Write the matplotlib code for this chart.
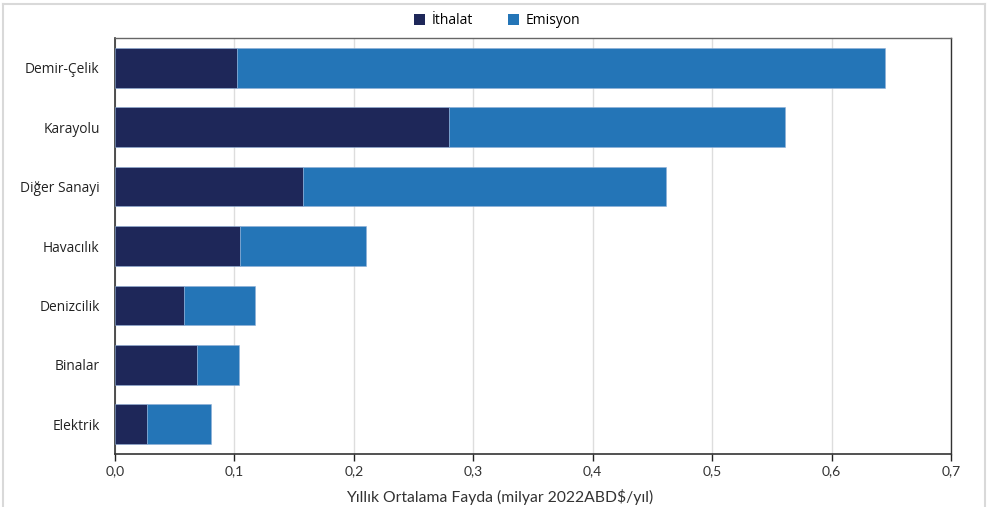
import matplotlib
matplotlib.use("Agg")
import matplotlib.pyplot as plt
from matplotlib.lines import Line2D
from matplotlib.patches import Patch

categories = ["Demir-Çelik", "Karayolu", "Diğer Sanayi", "Havacılık", "Denizcilik", "Binalar", "Elektrik"]
ithalat = [0.102, 0.280, 0.157, 0.105, 0.058, 0.069, 0.027]
emisyon = [0.543, 0.281, 0.304, 0.105, 0.059, 0.035, 0.053]
xticks = [0.0, 0.1, 0.2, 0.3, 0.4, 0.5, 0.6, 0.7]
xticklabels = ["0,0", "0,1", "0,2", "0,3", "0,4", "0,5", "0,6", "0,7"]
series_names = ["İthalat", "Emisyon"]
colors = ["#1e2759", "#2475b7"]

plt.rcParams['font.family'] = ['Open Sans', 'DejaVu Sans']

fig = plt.figure(figsize=(9.92, 5.07), dpi=100)
ax = fig.add_axes([115/992, 1 - 454/507, (951-115)/992, (454-38)/507])

y = list(range(len(categories)))
ax.barh(y, ithalat, height=0.67, color=colors[0], edgecolor="#8fb0d8", linewidth=0.4, zorder=3)
ax.barh(y, emisyon, left=ithalat, height=0.67, color=colors[1], edgecolor="#8fb0d8", linewidth=0.4, zorder=3)

ax.set_xlim(0, 0.7)
ax.set_ylim(6.5, -0.5)
ax.set_yticks(y)
ax.set_yticklabels(categories, fontsize=9.9, color="#222222")
ax.tick_params(axis='y', length=0, pad=11)
ax.set_xticks(xticks)
ax.set_xticklabels(xticklabels, fontsize=10, color="#333333", family=['Lato', 'DejaVu Sans'])
ax.tick_params(axis='x', length=5, width=1, color="#222222", pad=3)
ax.xaxis.grid(True, color="#dddddd", linewidth=1, zorder=0)
ax.set_axisbelow(True)

for s in ["left", "bottom"]:
    ax.spines[s].set_color("#333333")
    ax.spines[s].set_linewidth(1.2)
ax.spines["top"].set_color("#666666")
ax.spines["right"].set_color("#333333")
ax.spines["top"].set_linewidth(1.0)
ax.spines["right"].set_linewidth(1.0)

fig.text(500/992, 1 - 497/507, "Yıllık Ortalama Fayda (milyar 2022ABD$/yıl)", fontsize=11.3,
         color="#333333", ha="center", va="center", family=['Lato', 'DejaVu Sans'])

handles = [Patch(facecolor=colors[0]), Patch(facecolor=colors[1])]
fig.legend(handles, series_names, loc="center", bbox_to_anchor=(497/992, 1 - 21/507), ncol=2,
           frameon=False, fontsize=10, handlelength=0.8, handleheight=0.8, columnspacing=2.5,
           handletextpad=0.5)

# light frame around figure
fig.add_artist(Line2D([3/992, 3/992], [0, 1 - 4/507], transform=fig.transFigure, color="#d9d9d9", lw=1.5))
fig.add_artist(Line2D([3/992, 985/992], [1 - 4/507, 1 - 4/507], transform=fig.transFigure, color="#d9d9d9", lw=1.5))
fig.add_artist(Line2D([985/992, 985/992], [0, 1 - 4/507], transform=fig.transFigure, color="#d9d9d9", lw=1.5))

fig.savefig("out.png", dpi=100)
